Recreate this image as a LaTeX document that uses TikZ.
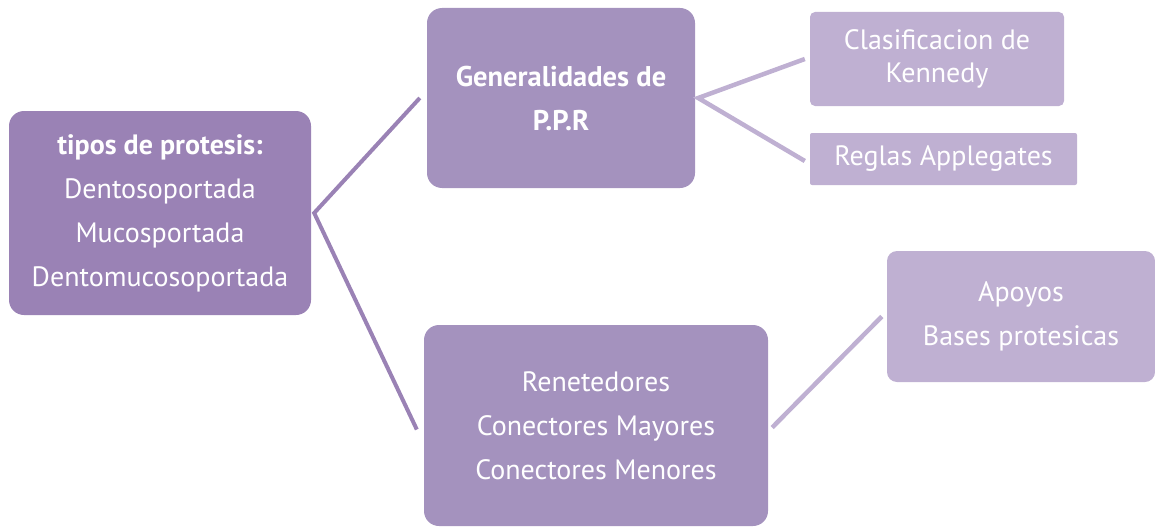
\documentclass[tikz,border=0pt]{standalone}
\usepackage{fontspec}
\setmainfont{PT Sans}
\usetikzlibrary{positioning}
\definecolor{rootfill}{HTML}{9A82B5}
\definecolor{midfill}{HTML}{A492BE}
\definecolor{leaffill}{HTML}{BFB0D2}
\begin{document}
\begin{tikzpicture}[x=1pt,y=-1pt,
              box/.style={text=white, align=center, inner sep=0pt,
                font=\fontsize{28}{44}\selectfont},
              rootbox/.style={box, fill=rootfill, rounded corners=15pt},
              midbox/.style={box, fill=midfill, rounded corners=15pt},
              leafbox/.style={box, fill=leaffill, rounded corners=5pt},
              rootlink/.style={draw=rootfill, line width=4pt},
              leaflink/.style={draw=leaffill, line width=4.5pt}]
              \useasboundingbox (0,0) rectangle (1155,527);
              % boxes
              \node[rootbox, minimum width=302pt, minimum height=204pt] (tipos) at (160,213)
                {\textbf{tipos de protesis:}\\Dentosoportada\\Mucosportada\\Dentomucosoportada};
              \node[midbox, minimum width=268pt, minimum height=180pt,
                font=\fontsize{28.5}{44}\selectfont] (gen) at (561,98)
                {\textbf{Generalidades de}\\\textbf{P.P.R}};
              \node[leafbox, minimum width=254pt, minimum height=94pt,
                font=\fontsize{28}{33}\selectfont] (kennedy) at (937,59)
                {Clasificacion de\\Kennedy};
              \node[leafbox, rounded corners=2pt, minimum width=267pt, minimum height=52pt] (reglas) at (943.5,159)
                {Reglas Applegates};
              \node[midbox, minimum width=344pt, minimum height=201pt] (ren) at (596,425.5)
                {Renetedores\\Conectores Mayores\\Conectores Menores};
              \node[leafbox, rounded corners=10pt, minimum width=268pt, minimum height=131pt] (apoyos) at (1021,316.5)
                {Apoyos\\Bases protesicas};
              % connectors
              \coordinate (tiposfork) at ([xshift=3pt]tipos.east);
              \coordinate (genfork) at ([xshift=3pt]gen.east);
              \draw[rootlink] ([xshift=-7pt]gen.west) -- (tiposfork) -- ([xshift=-7pt,yshift=-4pt]ren.west);
              \draw[leaflink] ([xshift=-5pt]kennedy.west) -- (genfork) -- ([xshift=-5pt,yshift=-2pt]reglas.west);
              \draw[leaflink] ([xshift=4pt,yshift=-2pt]ren.east) -- ([xshift=-5pt]apoyos.west);
            \end{tikzpicture}
\end{document}
